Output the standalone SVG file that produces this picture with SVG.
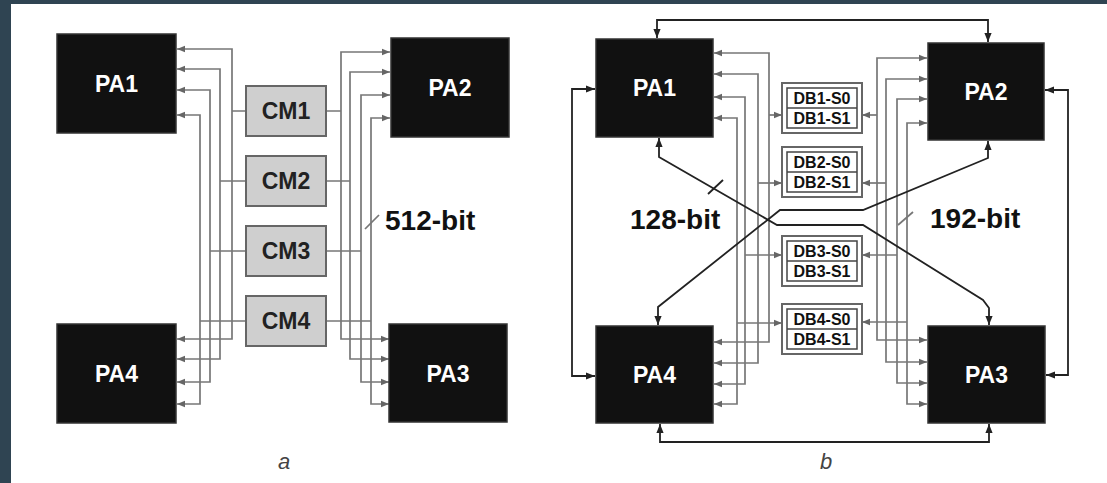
<svg xmlns="http://www.w3.org/2000/svg" width="1107" height="483" viewBox="0 0 1107 483">
<style>
.pa{fill:#111;stroke:#333;stroke-width:1.5}
.pat{fill:#fff;font-family:"Liberation Sans",Arial,sans-serif;font-weight:bold;font-size:23px;text-anchor:middle}
.cm{fill:#cfcfcf;stroke:#666;stroke-width:2}
.cmt{fill:#222;font-family:"Liberation Sans",Arial,sans-serif;font-weight:bold;font-size:23px;text-anchor:middle}
.g{fill:none;stroke:#777;stroke-width:1.7}
.k{fill:none;stroke:#222;stroke-width:1.8}
.dbo{fill:#fff;stroke:#666;stroke-width:2}
.dbi{fill:#fff;stroke:#444;stroke-width:1.5}
.dbt{fill:#111;font-family:"Liberation Sans",Arial,sans-serif;font-weight:bold;font-size:16px;text-anchor:middle}
.lab{fill:#111;font-family:"Liberation Sans",Arial,sans-serif;font-weight:bold;font-size:28px}
.sub{fill:#444;font-family:"Liberation Sans",Arial,sans-serif;font-style:italic;font-size:22px;text-anchor:middle}
</style>
<defs>
<marker id="ag" viewBox="0 0 10 10" refX="10" refY="5" markerWidth="8" markerHeight="8" markerUnits="userSpaceOnUse" orient="auto-start-reverse"><path d="M0,1 L10,5 L0,9 z" fill="#666"/></marker>
<marker id="ak" viewBox="0 0 10 10" refX="10" refY="5" markerWidth="9" markerHeight="9" markerUnits="userSpaceOnUse" orient="auto-start-reverse"><path d="M0,1 L10,5 L0,9 z" fill="#222"/></marker>
</defs>
<rect x="0" y="0" width="1107" height="483" fill="#fff"/>
<rect x="0" y="0" width="1107" height="4" fill="#2f4452"/>
<rect x="0" y="0" width="11" height="483" fill="#2f4452"/>

<g id="connectors">
<path class="g" d="M177,49 H232 V339 H177" marker-start="url(#ag)" marker-end="url(#ag)"/>
<path class="g" d="M177,69 H220 V359 H177" marker-start="url(#ag)" marker-end="url(#ag)"/>
<path class="g" d="M177,90 H210 V382 H177" marker-start="url(#ag)" marker-end="url(#ag)"/>
<path class="g" d="M177,115 H200 V404 H177" marker-start="url(#ag)" marker-end="url(#ag)"/>
<path class="g" d="M390,52 H341 V339 H389" marker-start="url(#ag)" marker-end="url(#ag)"/>
<path class="g" d="M390,72 H350 V359 H389" marker-start="url(#ag)" marker-end="url(#ag)"/>
<path class="g" d="M390,95 H361 V382 H389" marker-start="url(#ag)" marker-end="url(#ag)"/>
<path class="g" d="M390,118 H371 V404 H389" marker-start="url(#ag)" marker-end="url(#ag)"/>
<path class="g" d="M232,111 H246 M326,111 H341"/>
<path class="g" d="M220,181 H246 M326,181 H350"/>
<path class="g" d="M210,251 H246 M326,251 H361"/>
<path class="g" d="M200,321 H246 M326,321 H371"/>
<line class="g" x1="365" y1="229" x2="379" y2="215" stroke-width="1.8"/>

<path class="g" d="M714,53 H769 V342 H714" marker-start="url(#ag)" marker-end="url(#ag)"/>
<path class="g" d="M714,74 H758 V363 H714" marker-start="url(#ag)" marker-end="url(#ag)"/>
<path class="g" d="M714,97 H745 V384 H714" marker-start="url(#ag)" marker-end="url(#ag)"/>
<path class="g" d="M714,118 H737 V404 H714" marker-start="url(#ag)" marker-end="url(#ag)"/>
<path class="g" d="M769,115 H782" marker-end="url(#ag)"/>
<path class="g" d="M758,183 H782" marker-end="url(#ag)"/>
<path class="g" d="M745,255 H782" marker-end="url(#ag)"/>
<path class="g" d="M737,323 H782" marker-end="url(#ag)"/>
<path class="g" d="M927,58 H877 V340 H927" marker-start="url(#ag)" marker-end="url(#ag)"/>
<path class="g" d="M927,79 H886 V362 H927" marker-start="url(#ag)" marker-end="url(#ag)"/>
<path class="g" d="M927,99 H897 V383 H927" marker-start="url(#ag)" marker-end="url(#ag)"/>
<path class="g" d="M927,123 H907 V404 H927" marker-start="url(#ag)" marker-end="url(#ag)"/>
<path class="g" d="M877,115 H862" marker-end="url(#ag)"/>
<path class="g" d="M886,183 H862" marker-end="url(#ag)"/>
<path class="g" d="M897,255 H862" marker-end="url(#ag)"/>
<path class="g" d="M907,322 H862" marker-end="url(#ag)"/>
<line class="g" x1="898" y1="225" x2="913" y2="212" stroke-width="1.8"/>

<path class="k" d="M657,38 V20 H988 V42" marker-start="url(#ak)" marker-end="url(#ak)"/>
<path class="k" d="M595,89 H572 V376 H595" marker-start="url(#ak)" marker-end="url(#ak)"/>
<path class="k" d="M1045,90 H1068 V375 H1046" marker-start="url(#ak)" marker-end="url(#ak)"/>
<path class="k" d="M660,424 V442 H989 V424" marker-start="url(#ak)" marker-end="url(#ak)"/>
<path class="k" d="M659,138 V157 L777,225 H863 L983,300 L989,308 V325" marker-start="url(#ak)" marker-end="url(#ak)"/>
<path class="k" d="M658,325 V307 L780,210 H863 L988,158 V141" marker-start="url(#ak)" marker-end="url(#ak)"/>
<line class="k" x1="708" y1="194" x2="723" y2="180"/>
</g>

<g id="PA1a"><rect class="pa" x="57" y="34" width="119" height="99"/><text class="pat" x="116.5" y="92">PA1</text></g>
<g id="PA2a"><rect class="pa" x="391" y="38" width="118" height="99"/><text class="pat" x="450" y="96">PA2</text></g>
<g id="PA3a"><rect class="pa" x="389" y="324" width="118" height="98"/><text class="pat" x="448" y="382">PA3</text></g>
<g id="PA4a"><rect class="pa" x="57" y="324" width="119" height="99"/><text class="pat" x="116.5" y="382">PA4</text></g>

<g id="CM1"><rect class="cm" x="246" y="86" width="80" height="50"/><text class="cmt" x="286" y="119">CM1</text></g>
<g id="CM2"><rect class="cm" x="246" y="156" width="80" height="50"/><text class="cmt" x="286" y="189">CM2</text></g>
<g id="CM3"><rect class="cm" x="246" y="226" width="80" height="50"/><text class="cmt" x="286" y="259">CM3</text></g>
<g id="CM4"><rect class="cm" x="246" y="296" width="80" height="50"/><text class="cmt" x="286" y="329">CM4</text></g>

<text class="lab" x="385" y="230">512-bit</text>
<text class="sub" x="284" y="469">a</text>

<g id="PA1b"><rect class="pa" x="596" y="39" width="117" height="98"/><text class="pat" x="654.5" y="96">PA1</text></g>
<g id="PA2b"><rect class="pa" x="928" y="43" width="116" height="97"/><text class="pat" x="986" y="100">PA2</text></g>
<g id="PA3b"><rect class="pa" x="928" y="326" width="117" height="97"/><text class="pat" x="986.5" y="383">PA3</text></g>
<g id="PA4b"><rect class="pa" x="596" y="326" width="117" height="97"/><text class="pat" x="654.5" y="383">PA4</text></g>

<g id="DB1"><rect class="dbo" x="782" y="83" width="80" height="50"/><rect class="dbi" x="787" y="88" width="70" height="40"/><line x1="787" y1="108" x2="857" y2="108" stroke="#444" stroke-width="1.5"/><text class="dbt" x="822" y="104">DB1-S0</text><text class="dbt" x="822" y="124">DB1-S1</text></g>
<g id="DB2"><rect class="dbo" x="782" y="147" width="80" height="50"/><rect class="dbi" x="787" y="152" width="70" height="40"/><line x1="787" y1="172" x2="857" y2="172" stroke="#444" stroke-width="1.5"/><text class="dbt" x="822" y="168">DB2-S0</text><text class="dbt" x="822" y="188">DB2-S1</text></g>
<g id="DB3"><rect class="dbo" x="782" y="236" width="80" height="50"/><rect class="dbi" x="787" y="241" width="70" height="40"/><line x1="787" y1="261" x2="857" y2="261" stroke="#444" stroke-width="1.5"/><text class="dbt" x="822" y="257">DB3-S0</text><text class="dbt" x="822" y="277">DB3-S1</text></g>
<g id="DB4"><rect class="dbo" x="782" y="304" width="80" height="50"/><rect class="dbi" x="787" y="309" width="70" height="40"/><line x1="787" y1="329" x2="857" y2="329" stroke="#444" stroke-width="1.5"/><text class="dbt" x="822" y="325">DB4-S0</text><text class="dbt" x="822" y="345">DB4-S1</text></g>

<text class="lab" x="630" y="229">128-bit</text>
<text class="lab" x="930" y="228">192-bit</text>
<text class="sub" x="826" y="469">b</text>
</svg>
